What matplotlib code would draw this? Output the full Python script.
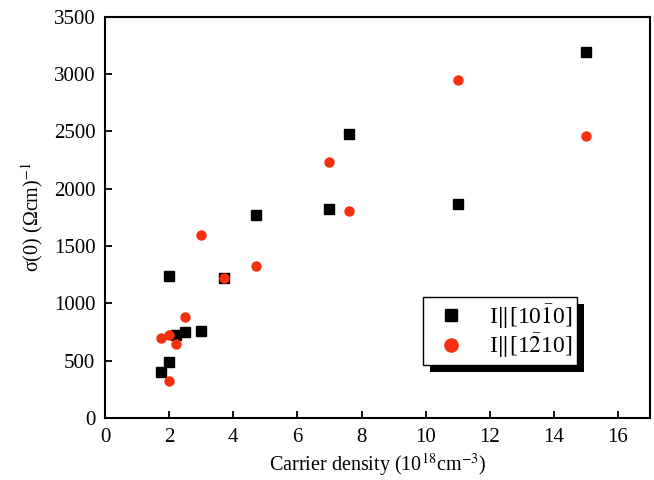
import numpy as np
import matplotlib
matplotlib.use("Agg")
from matplotlib import pyplot as plt
from matplotlib import patheffects as pe

plt.rcParams['font.family'] = ['Liberation Serif', 'DejaVu Serif']
plt.rcParams['mathtext.fontset'] = 'stix'

# I || [10-10]
density_a = [1.76, 2.0, 2.0, 2.2, 2.5, 3.0, 3.7, 4.7, 7.0, 7.6, 11.0, 15.0]
sigma_a = [400, 488, 1240, 724, 753, 762, 1220, 1770, 1820, 2480, 1870, 3190]

# I || [1-210]
density_b = [1.76, 2.0, 2.0, 2.2, 2.5, 3.0, 3.7, 4.7, 7.0, 7.6, 11.0, 15.0]
sigma_b = [701, 724, 323, 646, 884, 1600, 1220, 1330, 2230, 1805, 2950, 2460]

label_a = r'I$\|$[10$\bar{1}$0]'
label_b = r'I$\|$[1$\bar{2}$10]'

fig = plt.figure(figsize=(6.54, 4.80), dpi=100)
ax = fig.add_axes([0.1606, 0.129, 0.8334, 0.836])

ax.plot(density_a, sigma_a, 's', color='black', markersize=6.5, label=label_a)
ax.plot(density_b, sigma_b, 'o', color='#f5300f', markersize=7.5,
        markeredgewidth=0, label=label_b)

ax.set_xlim(0, 17)
ax.set_ylim(0, 3500)
ax.set_xticks(np.arange(0, 17, 2))
ax.set_yticks(np.arange(0, 3501, 500))
ax.tick_params(direction='in', length=5, width=1.3, labelsize=15,
               top=False, right=False, pad=7)
for s in ax.spines.values():
    s.set_linewidth(1.5)

ax.set_xlabel(r'Carrier density (10$^{18}$cm$^{-3}$)', fontsize=14.5, labelpad=3)
ax.set_ylabel(r'σ(0) (Ωcm)$^{-1}$', fontsize=14.5, labelpad=6)

leg = ax.legend(loc='lower left', bbox_to_anchor=(0.583, 0.132),
                fontsize=17, fancybox=False, frameon=True, edgecolor='black',
                framealpha=1, handlelength=2.0, handletextpad=0.6,
                borderpad=0.2, labelspacing=0.05, borderaxespad=0,
                markerscale=1.4)
frame = leg.get_frame()
frame.set_linewidth(1.0)
frame.set_path_effects([
    pe.SimplePatchShadow(offset=(5, -5), shadow_rgbFace='black', alpha=1),
    pe.Normal(),
])

plt.savefig('out.png', dpi=100)
